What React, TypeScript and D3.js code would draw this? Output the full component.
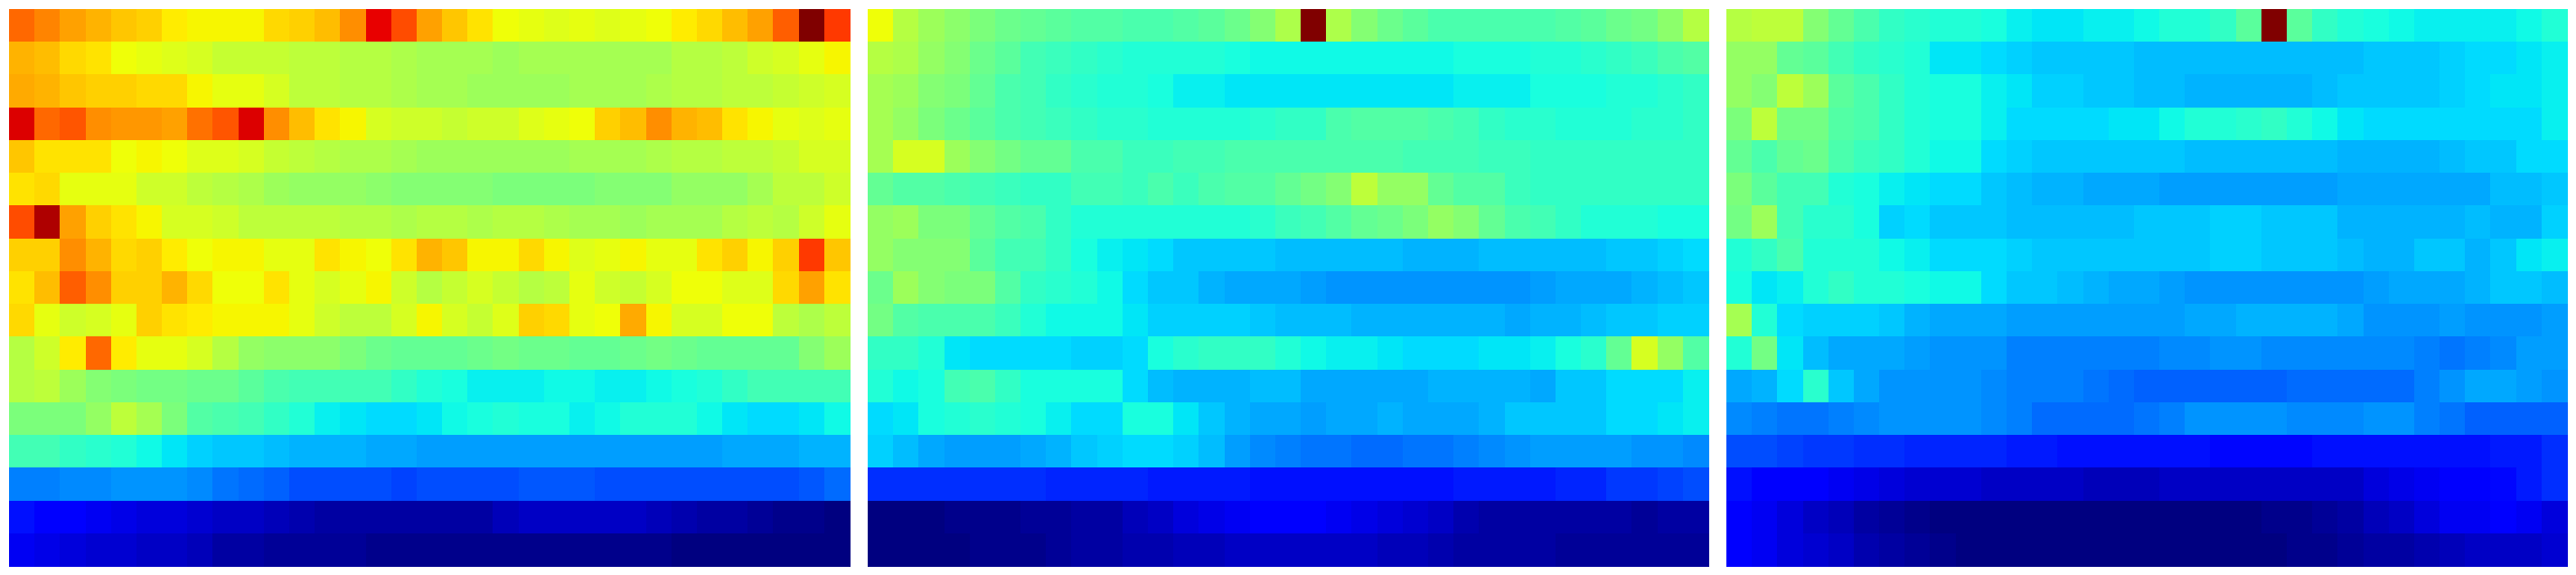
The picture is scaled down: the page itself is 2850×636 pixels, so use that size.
import { useEffect, useRef } from 'react';
import * as d3 from 'd3';

// values on a 0-100 scale (position on the jet map)
const leftRows = [
  [80, 77, 74, 72, 70, 69, 66, 65, 65, 65, 68, 69, 71, 76, 91, 83, 74, 70, 67, 64, 63, 62, 63, 62, 63, 64, 66, 68, 71, 74, 81, 100, 85],
  [72, 71, 68, 67, 64, 63, 62, 61, 59, 59, 59, 58, 58, 57, 57, 56, 55, 55, 55, 54, 55, 55, 55, 55, 55, 55, 57, 57, 58, 60, 61, 63, 65],
  [73, 72, 70, 69, 69, 68, 68, 65, 63, 63, 61, 58, 58, 57, 57, 56, 55, 55, 54, 54, 54, 54, 55, 55, 55, 56, 57, 57, 58, 58, 59, 60, 61],
  [92, 80, 82, 76, 75, 75, 74, 79, 82, 92, 76, 71, 67, 65, 61, 60, 60, 59, 60, 60, 62, 63, 64, 69, 71, 76, 72, 71, 67, 65, 63, 62, 63],
  [70, 67, 67, 67, 64, 65, 64, 62, 62, 61, 59, 58, 57, 56, 56, 55, 54, 54, 54, 54, 54, 54, 55, 55, 55, 56, 57, 57, 58, 58, 59, 61, 61],
  [67, 68, 63, 63, 63, 60, 60, 58, 57, 56, 54, 53, 53, 53, 52, 51, 51, 51, 51, 50, 50, 50, 50, 51, 51, 51, 53, 53, 53, 55, 58, 58, 60],
  [83, 96, 74, 69, 67, 65, 61, 61, 60, 58, 58, 58, 58, 57, 57, 56, 57, 57, 56, 57, 57, 56, 55, 55, 54, 55, 55, 55, 57, 58, 57, 60, 63],
  [69, 69, 76, 72, 68, 69, 66, 64, 65, 65, 63, 63, 67, 65, 64, 67, 72, 70, 65, 65, 68, 65, 62, 63, 65, 63, 63, 67, 69, 65, 69, 85, 70],
  [67, 71, 81, 76, 69, 69, 72, 68, 64, 64, 67, 63, 61, 63, 65, 60, 57, 59, 61, 59, 57, 58, 63, 60, 59, 61, 64, 64, 62, 62, 68, 74, 67],
  [68, 63, 60, 61, 63, 69, 67, 66, 65, 65, 65, 63, 60, 58, 58, 61, 65, 61, 59, 62, 69, 68, 63, 64, 73, 65, 61, 61, 64, 64, 58, 56, 58],
  [57, 60, 66, 80, 66, 63, 63, 61, 57, 53, 52, 52, 52, 50, 48, 47, 47, 47, 48, 49, 48, 48, 47, 47, 48, 49, 48, 47, 47, 47, 47, 51, 54],
  [57, 58, 54, 51, 50, 49, 49, 48, 48, 46, 44, 43, 43, 43, 43, 41, 39, 38, 36, 36, 36, 37, 37, 36, 36, 37, 38, 39, 41, 43, 43, 43, 43],
  [50, 50, 50, 53, 58, 55, 50, 45, 44, 43, 41, 39, 36, 35, 34, 34, 35, 37, 38, 39, 38, 38, 36, 37, 39, 39, 39, 37, 35, 34, 34, 35, 37],
  [43, 43, 41, 40, 39, 37, 35, 33, 32, 32, 31, 30, 30, 30, 29, 29, 28, 28, 28, 28, 28, 28, 28, 28, 28, 28, 28, 28, 29, 29, 29, 30, 30],
  [25, 25, 26, 26, 27, 27, 27, 26, 24, 23, 22, 20, 20, 20, 20, 19, 20, 20, 20, 20, 21, 21, 21, 20, 20, 20, 20, 20, 20, 20, 20, 21, 23],
  [14, 12, 12, 10, 9, 8, 8, 7, 6, 6, 5, 4, 3, 3, 3, 3, 3, 3, 3, 5, 6, 6, 6, 6, 6, 5, 4, 3, 3, 2, 1, 1, 0],
  [10, 9, 8, 7, 7, 6, 6, 5, 3, 3, 2, 2, 2, 2, 1, 1, 1, 1, 1, 1, 1, 1, 1, 1, 1, 1, 0, 0, 0, 0, 0, 0, 0],
];

const middleRows = [
  [64, 57, 54, 52, 50, 48, 47, 46, 45, 45, 44, 44, 45, 46, 48, 51, 56, 100, 56, 51, 48, 46, 44, 44, 44, 44, 44, 45, 46, 48, 49, 52, 57],
  [57, 56, 53, 51, 48, 46, 43, 42, 41, 40, 39, 39, 39, 39, 38, 37, 37, 37, 37, 37, 37, 37, 37, 38, 38, 38, 39, 39, 40, 41, 42, 44, 45],
  [55, 54, 51, 50, 47, 44, 43, 41, 40, 39, 39, 38, 36, 36, 35, 35, 35, 35, 35, 35, 35, 35, 35, 36, 36, 36, 38, 38, 38, 39, 39, 40, 41],
  [55, 53, 50, 48, 46, 44, 43, 42, 41, 40, 40, 39, 39, 39, 39, 40, 41, 41, 44, 45, 45, 45, 44, 43, 41, 40, 40, 39, 39, 39, 40, 40, 41],
  [55, 61, 61, 54, 51, 49, 47, 47, 44, 44, 42, 42, 43, 43, 44, 44, 44, 44, 44, 44, 44, 43, 43, 43, 42, 42, 41, 41, 41, 41, 41, 41, 41],
  [47, 45, 45, 44, 43, 42, 41, 41, 43, 43, 42, 44, 42, 44, 45, 45, 47, 49, 51, 58, 53, 53, 47, 45, 45, 42, 41, 41, 41, 41, 41, 41, 41],
  [53, 54, 50, 50, 47, 45, 44, 41, 39, 39, 39, 39, 39, 39, 39, 40, 42, 43, 45, 47, 48, 50, 53, 51, 47, 44, 43, 41, 39, 39, 39, 38, 38],
  [53, 51, 51, 51, 46, 43, 43, 41, 38, 36, 35, 34, 32, 32, 32, 32, 31, 31, 31, 31, 31, 30, 30, 30, 31, 31, 31, 31, 31, 32, 32, 33, 34],
  [48, 54, 51, 50, 50, 45, 41, 40, 39, 37, 34, 32, 32, 30, 29, 29, 29, 28, 27, 27, 27, 27, 27, 27, 27, 27, 28, 29, 29, 29, 30, 31, 32],
  [49, 45, 44, 44, 44, 42, 39, 37, 37, 37, 35, 33, 33, 33, 33, 32, 31, 31, 31, 30, 30, 30, 30, 30, 30, 29, 30, 30, 31, 32, 32, 33, 33],
  [41, 41, 39, 35, 34, 34, 34, 34, 33, 33, 34, 38, 40, 41, 41, 41, 39, 37, 36, 36, 35, 34, 34, 34, 35, 35, 36, 38, 40, 47, 61, 53, 45],
  [39, 37, 38, 43, 44, 41, 38, 38, 38, 38, 34, 31, 30, 30, 30, 31, 31, 29, 29, 29, 29, 29, 30, 30, 30, 30, 29, 32, 32, 34, 34, 34, 36],
  [34, 35, 38, 39, 40, 39, 38, 36, 34, 34, 38, 38, 35, 32, 30, 29, 29, 28, 29, 29, 30, 29, 29, 29, 30, 32, 32, 32, 32, 34, 34, 35, 36],
  [33, 31, 29, 28, 28, 28, 29, 30, 32, 33, 34, 34, 33, 31, 28, 26, 25, 24, 24, 23, 23, 24, 24, 25, 26, 27, 28, 28, 28, 28, 27, 27, 26],
  [17, 17, 17, 17, 17, 17, 17, 16, 16, 16, 16, 15, 15, 15, 15, 14, 14, 14, 14, 14, 14, 14, 14, 15, 15, 15, 15, 16, 16, 18, 18, 19, 20],
  [0, 0, 0, 1, 1, 1, 2, 2, 3, 3, 5, 6, 8, 9, 10, 11, 11, 11, 10, 9, 8, 7, 6, 4, 3, 3, 3, 3, 3, 3, 2, 3, 3],
  [0, 0, 0, 0, 1, 1, 1, 2, 3, 3, 4, 4, 5, 5, 6, 6, 6, 6, 6, 6, 5, 5, 4, 3, 3, 3, 3, 2, 2, 2, 2, 2, 2],
];

const rightRows = [
  [57, 58, 58, 51, 47, 44, 41, 40, 39, 39, 38, 36, 35, 35, 36, 36, 37, 39, 39, 41, 46, 100, 46, 41, 39, 38, 37, 36, 36, 36, 36, 37, 39],
  [53, 53, 47, 46, 43, 41, 40, 39, 35, 35, 34, 33, 32, 32, 32, 32, 31, 31, 31, 31, 31, 31, 31, 31, 31, 32, 32, 32, 33, 34, 34, 35, 36],
  [53, 51, 58, 54, 46, 44, 41, 39, 38, 38, 36, 35, 33, 33, 32, 32, 31, 31, 30, 30, 30, 30, 30, 31, 32, 32, 32, 32, 33, 34, 35, 35, 36],
  [50, 58, 49, 49, 45, 44, 41, 39, 38, 38, 36, 34, 34, 34, 34, 35, 35, 37, 39, 39, 40, 41, 39, 37, 35, 34, 34, 34, 34, 34, 34, 34, 36],
  [47, 44, 47, 48, 44, 42, 41, 39, 37, 37, 34, 33, 32, 32, 32, 32, 32, 32, 31, 31, 31, 31, 31, 31, 30, 30, 30, 30, 31, 32, 32, 34, 34],
  [50, 46, 43, 43, 39, 38, 36, 35, 34, 34, 32, 31, 30, 30, 29, 29, 29, 28, 28, 28, 28, 28, 28, 28, 29, 29, 29, 29, 29, 29, 31, 31, 32],
  [49, 54, 43, 40, 40, 38, 33, 34, 32, 32, 32, 31, 31, 31, 31, 31, 32, 32, 32, 33, 33, 32, 32, 32, 30, 30, 30, 30, 30, 31, 30, 30, 33],
  [39, 41, 44, 39, 39, 39, 37, 36, 34, 34, 34, 33, 32, 32, 32, 32, 32, 32, 32, 33, 33, 32, 32, 32, 31, 30, 30, 32, 32, 30, 32, 35, 36],
  [38, 35, 36, 39, 41, 39, 39, 38, 37, 37, 34, 32, 32, 31, 30, 29, 29, 28, 27, 27, 27, 27, 27, 27, 27, 28, 29, 29, 29, 30, 32, 32, 31],
  [55, 39, 34, 33, 33, 33, 32, 30, 29, 29, 29, 28, 28, 28, 28, 28, 28, 28, 29, 29, 30, 30, 30, 30, 29, 27, 27, 27, 28, 27, 27, 27, 28],
  [39, 49, 35, 31, 29, 29, 29, 28, 27, 27, 27, 25, 25, 25, 25, 25, 25, 26, 26, 27, 27, 26, 26, 26, 26, 26, 26, 25, 24, 25, 26, 28, 28],
  [29, 30, 34, 40, 32, 29, 27, 27, 27, 27, 26, 25, 25, 25, 24, 23, 22, 22, 22, 22, 22, 22, 23, 23, 23, 23, 23, 25, 27, 29, 29, 28, 27],
  [26, 25, 24, 24, 25, 26, 27, 27, 27, 27, 26, 25, 23, 23, 23, 23, 24, 25, 27, 27, 27, 27, 26, 26, 26, 27, 27, 25, 24, 22, 22, 22, 22],
  [20, 20, 19, 18, 18, 17, 17, 16, 16, 16, 16, 15, 15, 14, 14, 14, 14, 14, 14, 13, 13, 13, 13, 14, 14, 14, 14, 14, 14, 14, 15, 15, 17],
  [14, 12, 12, 12, 10, 9, 8, 7, 7, 7, 6, 6, 6, 6, 5, 5, 5, 6, 6, 6, 6, 6, 6, 6, 6, 8, 9, 10, 11, 11, 13, 15, 17],
  [11, 10, 8, 6, 5, 3, 2, 1, 0, 0, 0, 0, 0, 0, 0, 0, 0, 0, 0, 0, 0, 1, 1, 2, 3, 5, 6, 8, 10, 10, 11, 10, 8],
  [11, 10, 8, 7, 6, 4, 3, 2, 1, 0, 0, 0, 0, 0, 0, 0, 0, 0, 0, 0, 0, 0, 1, 1, 2, 3, 3, 4, 5, 6, 6, 6, 7],
];

const panels = [leftRows, middleRows, rightRows];

// matplotlib-like jet, t in [0, 1]
function jet(t: number) {
  const c = (v: number) => Math.max(0, Math.min(1, v));
  const r = t < 0.89 ? c((t - 0.35) / 0.31) : c(1 - ((t - 0.89) / 0.11) * 0.5);
  const g = t < 0.64 ? c((t - 0.125) / 0.25) : c(1 - (t - 0.64) / 0.27);
  const b = t < 0.34 ? c(0.5 + t / 0.22) : c(1 - (t - 0.34) / 0.31);
  return d3.rgb(r * 255, g * 255, b * 255).formatHex();
}

export default function App() {
  const svgRef = useRef<SVGSVGElement>(null);

  useEffect(() => {
    if (!svgRef.current) return;
    const width = 2850;
    const height = 636;
    const margin = { top: 10, right: 10, bottom: 10, left: 10 };

    const svg = d3.select(svgRef.current);
    svg.selectAll('*').remove();
    svg.attr('width', width).attr('height', height);

    const color = d3.scaleSequential(jet).domain([0, 100]);

    const px = d3.scaleBand<number>()
      .domain(d3.range(panels.length))
      .range([margin.left, width - margin.right])
      .paddingInner(20 / 950);

    const y = d3.scaleBand<number>()
      .domain(d3.range(leftRows.length))
      .range([margin.top, height - margin.bottom]);

    panels.forEach((rows, p) => {
      const x = d3.scaleBand<number>()
        .domain(d3.range(rows[0].length))
        .range([0, px.bandwidth()]);

      const cells = rows.flatMap((row, r) => row.map((v, col) => ({ r, col, v })));

      svg.append('g')
        .attr('transform', `translate(${px(p)},0)`)
        .selectAll('rect')
        .data(cells)
        .enter()
        .append('rect')
        .attr('x', d => x(d.col) || 0)
        .attr('y', d => y(d.r) || 0)
        .attr('width', x.bandwidth() + 0.6)
        .attr('height', y.bandwidth() + 0.6)
        .attr('fill', d => color(d.v))
        .attr('shape-rendering', 'crispEdges');
    });
  }, []);

  return (
    <div style={{ position: 'absolute', left: 0, top: 0, background: '#fff' }}>
      <svg ref={svgRef} style={{ display: 'block' }}></svg>
    </div>
  );
}
